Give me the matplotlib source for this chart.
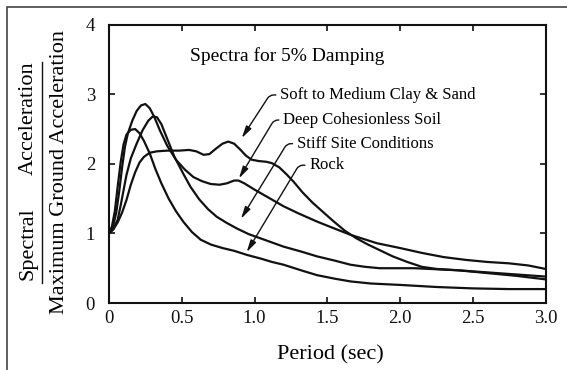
import numpy as np
import matplotlib
matplotlib.use('Agg')
import matplotlib.pyplot as plt
from matplotlib.lines import Line2D
from matplotlib.patches import Rectangle

plt.rcParams['font.family'] = ['Liberation Serif', 'DejaVu Serif']

# spectral shapes (period in sec, Sa / PGA)
soft_T = [0.00, 0.03, 0.06, 0.09, 0.12, 0.15, 0.18, 0.21, 0.24, 0.28, 0.33, 0.40, 0.48, 0.55,
          0.60, 0.65, 0.69, 0.73, 0.78, 0.82, 0.86, 0.90, 0.94, 0.98, 1.03, 1.08, 1.12, 1.17,
          1.22, 1.27, 1.33, 1.40, 1.47, 1.54, 1.62, 1.70, 1.78, 1.86, 1.95, 2.05, 2.15, 2.25,
          2.40, 2.60, 2.80, 3.00]
soft_sa = [1.00, 1.06, 1.16, 1.30, 1.48, 1.70, 1.88, 2.02, 2.10, 2.16, 2.18, 2.19, 2.19, 2.20,
           2.18, 2.13, 2.14, 2.21, 2.29, 2.32, 2.29, 2.21, 2.12, 2.06, 2.04, 2.03, 2.01, 1.95,
           1.85, 1.74, 1.59, 1.44, 1.31, 1.18, 1.04, 0.93, 0.84, 0.76, 0.67, 0.59, 0.52, 0.49,
           0.47, 0.43, 0.39, 0.34]

deep_T = [0.00, 0.03, 0.05, 0.07, 0.09, 0.11, 0.13, 0.16, 0.19, 0.22, 0.25, 0.28, 0.31, 0.35,
          0.40, 0.46, 0.52, 0.58, 0.64, 0.70, 0.76, 0.81, 0.86, 0.89, 0.93, 1.00, 1.10, 1.20,
          1.30, 1.43, 1.55, 1.66, 1.75, 1.84, 2.00, 2.15, 2.30, 2.45, 2.60, 2.75, 2.88, 3.00]
deep_sa = [1.00, 1.12, 1.30, 1.60, 1.95, 2.25, 2.44, 2.62, 2.76, 2.84, 2.86, 2.80, 2.68, 2.48,
           2.26, 2.06, 1.92, 1.81, 1.75, 1.71, 1.70, 1.72, 1.76, 1.76, 1.72, 1.63, 1.51, 1.39,
           1.29, 1.17, 1.07, 0.98, 0.92, 0.86, 0.79, 0.72, 0.66, 0.62, 0.59, 0.57, 0.54, 0.49]

stiff_T = [0.00, 0.03, 0.06, 0.08, 0.10, 0.12, 0.15, 0.19, 0.23, 0.27, 0.30, 0.33, 0.36, 0.40,
           0.45, 0.51, 0.56, 0.62, 0.68, 0.74, 0.81, 0.88, 0.96, 1.04, 1.12, 1.20, 1.32, 1.43,
           1.55, 1.66, 1.76, 1.86, 2.00, 2.10, 2.20, 2.40, 2.60, 2.80, 3.00]
stiff_sa = [1.00, 1.06, 1.20, 1.40, 1.62, 1.84, 2.08, 2.29, 2.48, 2.62, 2.68, 2.67, 2.57, 2.36,
            2.10, 1.86, 1.67, 1.49, 1.35, 1.24, 1.15, 1.07, 0.99, 0.93, 0.87, 0.81, 0.74, 0.67,
            0.61, 0.55, 0.52, 0.50, 0.50, 0.50, 0.49, 0.47, 0.44, 0.41, 0.38]

rock_T = [0.00, 0.02, 0.04, 0.06, 0.08, 0.10, 0.12, 0.15, 0.18, 0.21, 0.24, 0.28, 0.32, 0.36,
          0.41, 0.46, 0.51, 0.57, 0.63, 0.70, 0.78, 0.86, 0.95, 1.04, 1.12, 1.20, 1.32, 1.43,
          1.55, 1.66, 1.80, 2.00, 2.25, 2.50, 2.75, 3.00]
rock_sa = [1.00, 1.10, 1.32, 1.68, 2.02, 2.28, 2.42, 2.49, 2.50, 2.44, 2.33, 2.15, 1.92, 1.72,
           1.50, 1.32, 1.17, 1.02, 0.91, 0.84, 0.79, 0.75, 0.69, 0.64, 0.59, 0.55, 0.47, 0.40,
           0.35, 0.31, 0.28, 0.26, 0.23, 0.21, 0.20, 0.20]

labels = ['Soft to Medium Clay & Sand', 'Deep Cohesionless Soil', 'Stiff Site Conditions', 'Rock']
label_pos = [(1.175, 2.99), (1.196, 2.63), (1.29, 2.29), (1.375, 1.98)]
arrow_tips = [(0.912, 2.37), (0.893, 1.79), (0.907, 1.21), (0.946, 0.73)]
arrow_angles = [57, 59, 58.5, 59]

xticks = [0, 0.5, 1.0, 1.5, 2.0, 2.5, 3.0]
xticklabels = ['0', '0.5', '1.0', '1.5', '2.0', '2.5', '3.0']
yticks = [0, 1, 2, 3, 4]

fig = plt.figure(figsize=(5.67, 3.70), dpi=100)
ax = fig.add_axes([109 / 567, 1 - 303 / 370, 436.5 / 567, 278.3 / 370])

for T, sa in [(soft_T, soft_sa), (deep_T, deep_sa), (stiff_T, stiff_sa), (rock_T, rock_sa)]:
    ax.plot(T, sa, color='#111111', lw=1.6, solid_joinstyle='round', solid_capstyle='round')

ax.set_xlim(0, 3.0)
ax.set_ylim(0, 4)
ax.set_xticks(xticks)
ax.set_xticklabels(xticklabels)
ax.set_yticks(yticks)
ax.tick_params(direction='in', length=4, width=1.2, top=True, right=True, colors='#111111')
ax.tick_params(axis='x', labelsize=13.5, pad=5)
ax.tick_params(axis='y', labelsize=13.5, pad=10)
for s in ax.spines.values():
    s.set_linewidth(1.5)
    s.set_color('#111111')

ax.text(0.56, 3.55, 'Spectra for 5% Damping', fontsize=14, va='center', ha='left')

for lab, pos, tip, ang in zip(labels, label_pos, arrow_tips, arrow_angles):
    ax.annotate(lab, xy=tip, xytext=pos, textcoords='data', fontsize=12,
                ha='left', va='center',
                arrowprops=dict(arrowstyle='-|>,head_length=0.6,head_width=0.15',
                                connectionstyle='angle,angleA=0,angleB=%s,rad=4' % ang,
                                relpos=(0, 0.5), shrinkA=1, shrinkB=0, lw=1.0,
                                color='#111111', mutation_scale=12))

# stacked y label: Spectral Acceleration / Maximum Ground Acceleration
fig.text(28 / 567, 1 - 244 / 370, 'Spectral', rotation=90, fontsize=16, ha='center', va='center')
fig.text(28 / 567, 1 - 118 / 370, 'Acceleration', rotation=90, fontsize=16, ha='center', va='center')
fig.add_artist(Line2D([42 / 567, 42 / 567], [1 - 62 / 370, 1 - 283 / 370],
                      transform=fig.transFigure, color='#111111', lw=1.0))
fig.text(60 / 567, 1 - 172 / 370, 'Maximum Ground Acceleration', rotation=90, fontsize=16,
         ha='center', va='center')
fig.text(330 / 567, 1 - 355 / 370, 'Period (sec)', fontsize=16, ha='center', va='center')

# scan border
fig.add_artist(Rectangle((7 / 567, -0.1), 2, 1.1 - 7 / 370, transform=fig.transFigure,
                         fill=False, lw=1.2, edgecolor='#444444'))

fig.savefig('out.png', dpi=100)
